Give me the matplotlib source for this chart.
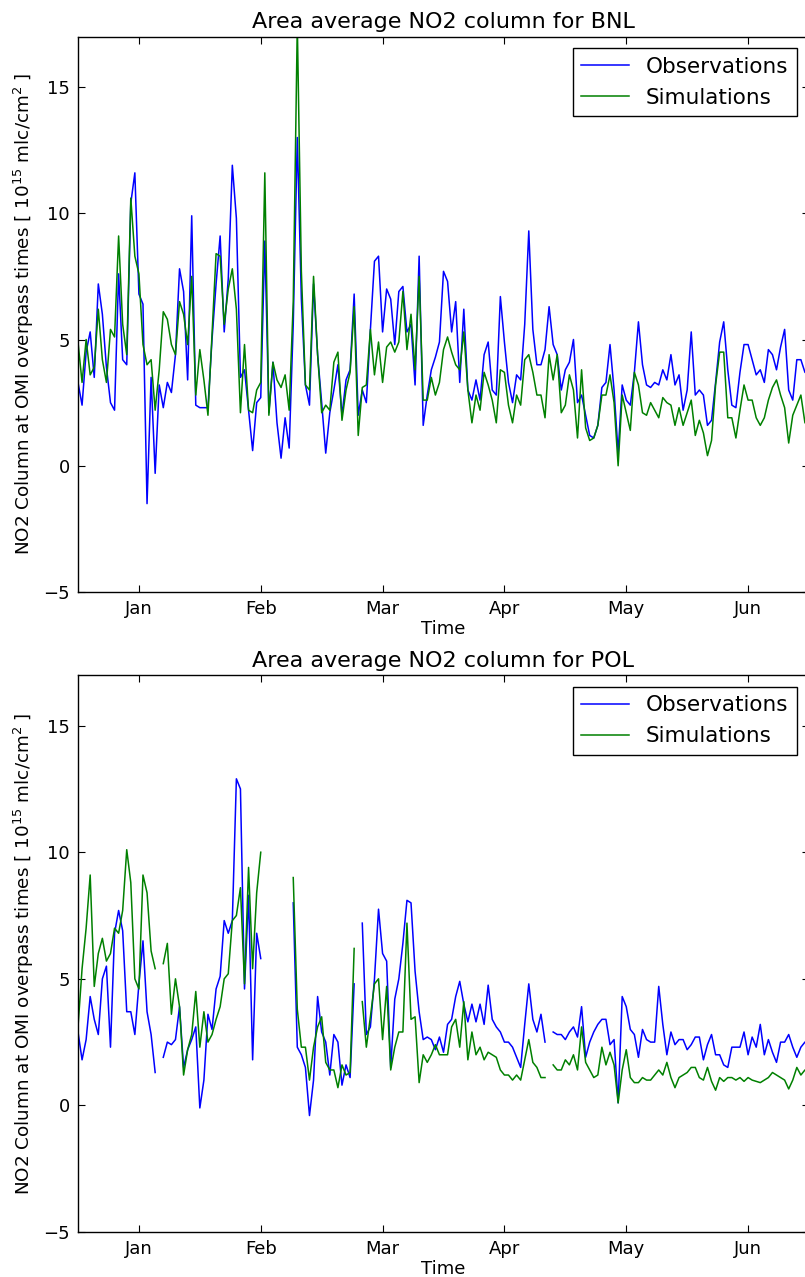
import numpy as np
import matplotlib
matplotlib.use("Agg")
import matplotlib.pyplot as plt

nan = np.nan

# daily values, mid-December to mid-June (day 0 .. day 180)
month_labels = ["Jan", "Feb", "Mar", "Apr", "May", "Jun"]
month_ticks = [15, 45, 75, 105, 135, 165]

obs_bnl = [3.3, 2.4, 4.5, 5.3, 3.5, 7.2, 6.0, 3.9, 2.5, 2.2,
           7.6, 4.2, 4.0, 10.4, 11.6, 6.8, 6.4, -1.5, 3.5, -0.3,
           3.2, 2.3, 3.3, 2.9, 4.4, 7.8, 6.9, 3.4, 9.9, 2.4,
           2.3, 2.3, 2.3, 5.0, 7.2, 9.1, 5.3, 7.4, 11.9, 9.8,
           3.5, 3.8, 2.2, 0.6, 2.5, 2.7, 8.9, 2.1, 4.1, 1.7,
           0.3, 1.9, 0.7, 5.6, 13.0, 6.6, 3.2, 2.4, 7.2, 4.4,
           2.5, 0.5, 2.1, 3.0, 4.0, 2.0, 3.4, 3.8, 6.8, 2.0,
           3.0, 2.5, 5.4, 8.1, 8.3, 5.3, 7.0, 6.6, 4.8, 6.9,
           7.1, 5.3, 5.6, 3.2, 8.3, 1.6, 2.8, 3.8, 4.3, 4.9,
           7.7, 7.3, 5.3, 6.5, 3.3, 6.2, 3.0, 2.6, 3.4, 2.6,
           4.4, 4.9, 3.0, 2.8, 6.7, 4.9, 3.3, 2.5, 3.6, 3.4,
           5.6, 9.3, 5.4, 4.0, 4.0, 4.6, 6.3, 4.8, 4.4, 3.0,
           3.8, 4.1, 5.0, 2.5, 2.8, 2.0, 1.2, 1.1, 1.6, 3.1,
           3.3, 4.8, 3.0, 0.5, 3.2, 2.6, 2.4, 3.7, 5.7, 4.0,
           3.2, 3.1, 3.3, 3.2, 3.8, 3.4, 4.4, 3.2, 3.6, 2.2,
           3.0, 5.3, 2.8, 3.0, 2.8, 1.6, 1.8, 3.3, 4.9, 5.7,
           3.8, 2.4, 2.3, 3.7, 4.8, 4.8, 4.2, 3.6, 3.8, 3.3,
           4.6, 4.4, 3.8, 4.7, 5.4, 3.0, 2.6, 4.2, 4.2, 3.7, 3.6]

sim_bnl = [4.9, 3.3, 5.0, 3.6, 3.9, 6.2, 4.2, 3.3, 5.4, 5.1,
           9.1, 5.6, 4.4, 10.6, 8.3, 7.6, 4.8, 4.0, 4.2, 2.2,
           3.8, 6.1, 5.8, 4.8, 4.4, 6.5, 6.0, 4.8, 7.5, 2.8,
           4.6, 3.4, 2.0, 5.2, 8.4, 8.3, 5.6, 7.0, 7.8, 6.2,
           2.1, 4.8, 2.2, 2.1, 3.0, 3.3, 11.6, 2.0, 4.1, 3.4,
           3.1, 3.6, 2.2, 6.5, 17.5, 7.7, 3.2, 3.0, 7.5, 4.4,
           2.1, 2.4, 2.2, 4.1, 4.5, 1.8, 3.0, 3.7, 6.3, 1.2,
           3.1, 3.2, 5.4, 3.6, 4.9, 3.3, 4.7, 4.9, 4.5, 4.9,
           6.9, 4.6, 6.0, 3.8, 7.5, 2.6, 2.6, 3.5, 2.8, 3.3,
           4.6, 5.1, 4.5, 4.0, 3.8, 5.3, 3.0, 1.7, 2.8, 2.2,
           3.7, 3.2, 2.6, 1.7, 3.8, 3.7, 2.4, 1.7, 2.8, 2.4,
           4.2, 4.4, 3.7, 2.8, 2.8, 1.9, 4.4, 3.4, 4.4, 2.1,
           2.4, 3.6, 3.0, 1.1, 3.8, 1.5, 1.0, 1.1, 1.6, 2.8,
           2.8, 3.6, 2.5, 0.0, 2.8, 2.1, 1.4, 3.7, 3.2, 2.1,
           2.0, 2.5, 2.2, 1.9, 2.7, 2.5, 2.4, 1.6, 2.3, 1.6,
           2.1, 2.6, 1.2, 1.8, 1.3, 0.4, 1.0, 3.2, 4.5, 4.5,
           1.9, 1.9, 1.1, 2.2, 3.2, 2.6, 2.6, 1.9, 1.6, 1.9,
           2.6, 3.1, 3.4, 2.8, 2.3, 0.9, 2.0, 2.4, 2.8, 1.7, 1.6]

obs_pol = [2.9, 1.8, 2.6, 4.3, 3.4, 2.8, 5.0, 5.5, 2.3, 6.8,
           7.7, 6.9, 3.7, 3.7, 2.8, 4.8, 6.5, 3.7, 2.8, 1.3,
           nan, 1.9, 2.5, 2.4, 2.6, 3.9, 1.5, 2.2, 2.6, 3.1,
           -0.1, 1.0, 3.6, 3.0, 4.6, 5.1, 7.3, 6.8, 7.3, 12.9,
           12.5, 4.6, 8.3, 1.8, 6.8, 5.8, nan, nan, nan, nan,
           nan, nan, nan, 8.0, 2.3, 2.0, 1.5, -0.4, 1.0, 4.3,
           2.9, 2.5, 1.2, 2.8, 2.5, 0.8, 1.6, 1.1, 4.8, nan,
           7.2, 2.8, 3.1, 5.0, 7.75, 6.0, 5.7, 1.5, 4.2, 5.0,
           6.4, 8.1, 8.0, 5.3, 3.7, 2.6, 2.7, 2.6, 2.2, 2.7,
           2.1, 3.2, 3.4, 4.3, 4.9, 4.0, 3.3, 4.0, 3.3, 4.0,
           3.2, 4.75, 3.4, 3.1, 2.9, 2.5, 2.5, 2.3, 1.9, 1.5,
           3.2, 4.8, 3.4, 2.9, 3.6, 2.5, nan, 2.9, 2.8, 2.8,
           2.6, 2.9, 3.1, 2.7, 3.9, 1.9, 2.5, 2.9, 3.2, 3.4,
           3.4, 2.4, 2.6, 0.1, 4.3, 3.9, 3.0, 2.8, 1.9, 3.0,
           2.6, 2.5, 2.5, 4.7, 3.2, 2.0, 2.9, 2.4, 2.6, 2.6,
           2.2, 2.4, 2.7, 2.7, 1.8, 2.4, 2.8, 2.0, 2.0, 1.6,
           1.5, 2.3, 2.3, 2.3, 2.9, 2.0, 2.7, 2.3, 3.2, 2.0,
           2.6, 2.1, 1.7, 2.5, 2.5, 2.8, 2.3, 1.9, 2.3, 2.5, 2.6]

sim_pol = [3.1, 5.4, 7.0, 9.1, 4.7, 6.0, 6.6, 5.7, 6.0, 7.0,
           6.8, 7.7, 10.1, 8.8, 5.0, 4.6, 9.1, 8.4, 6.1, 5.4,
           nan, 5.6, 6.4, 3.6, 5.0, 3.9, 1.2, 2.2, 2.8, 4.5,
           2.3, 3.7, 2.5, 2.8, 3.4, 3.9, 5.0, 5.2, 7.3, 7.5,
           8.6, 4.8, 9.4, 5.4, 8.4, 10.0, nan, nan, nan, nan,
           nan, nan, nan, 9.0, 3.8, 2.3, 2.3, 1.0, 2.3, 3.1,
           3.5, 1.7, 1.4, 1.4, 0.7, 1.6, 1.2, 1.3, 6.2, nan,
           4.1, 2.3, 3.5, 4.8, 5.0, 2.6, 4.7, 1.4, 2.3, 2.9,
           2.9, 7.2, 3.4, 3.5, 0.9, 2.0, 1.7, 2.0, 2.4, 2.0,
           2.0, 2.0, 3.1, 3.4, 2.3, 4.1, 1.8, 2.9, 2.0, 2.3,
           1.8, 2.1, 2.0, 1.9, 1.4, 1.2, 1.2, 1.0, 1.2, 1.0,
           1.8, 2.6, 1.7, 1.5, 1.1, 1.1, nan, 1.6, 1.4, 1.4,
           1.8, 1.6, 2.0, 1.4, 3.1, 1.7, 1.4, 1.1, 1.2, 2.3,
           1.6, 2.1, 1.6, 0.1, 1.4, 2.2, 1.1, 0.9, 0.9, 1.1,
           1.0, 1.0, 1.2, 1.4, 1.2, 1.7, 1.1, 0.7, 1.1, 1.2,
           1.3, 1.5, 1.5, 1.1, 1.0, 1.5, 0.95, 0.6, 1.1, 0.95,
           1.1, 1.1, 1.0, 1.1, 0.95, 1.1, 1.0, 0.95, 0.9, 1.0,
           1.1, 1.3, 1.2, 1.1, 1.0, 0.65, 1.0, 1.5, 1.2, 1.4, 1.4]

days = np.arange(181)

W, H = 805, 1277
fig = plt.figure(figsize=(W / 100, H / 100), dpi=100, facecolor="white")

# axes boxes in pixels: left, top, right, bottom
boxes = [(78, 36.5, 809, 592), (78, 675, 809, 1232)]
panels = [("BNL", obs_bnl, sim_bnl), ("POL", obs_pol, sim_pol)]

for (l, t, r, b), (site, obs, sim) in zip(boxes, panels):
    ax = fig.add_axes([l / W, 1 - b / H, (r - l) / W, (b - t) / H])
    ax.plot(days, obs, color="#0000ff", linewidth=1.1, label="Observations")
    ax.plot(days, sim, color="#008000", linewidth=1.1, label="Simulations")
    ax.set_xlim(0, 180)
    ax.set_ylim(-5, 17)
    ax.set_yticks([-5, 0, 5, 10, 15])
    ax.set_xticks(month_ticks)
    ax.set_xticklabels(month_labels)
    ax.tick_params(direction="in", top=True, right=True, length=5, labelsize=13, pad=6)
    for s in ax.spines.values():
        s.set_linewidth(1.0)
    ax.set_title(f"Area average NO2 column for {site}", fontsize=16, pad=6)
    ax.set_xlabel("Time", fontsize=13, labelpad=1)
    ax.set_ylabel(r"NO2 Column at OMI overpass times [ $10^{15}$ mlc/cm$^2$ ]", fontsize=13.2, labelpad=5)
    leg = ax.legend(loc="upper right", fontsize=15.5, fancybox=False, framealpha=1,
                    edgecolor="black", borderaxespad=0.55, handlelength=2.2)
    leg.get_frame().set_linewidth(1.0)

fig.savefig("out.png", dpi=100)
